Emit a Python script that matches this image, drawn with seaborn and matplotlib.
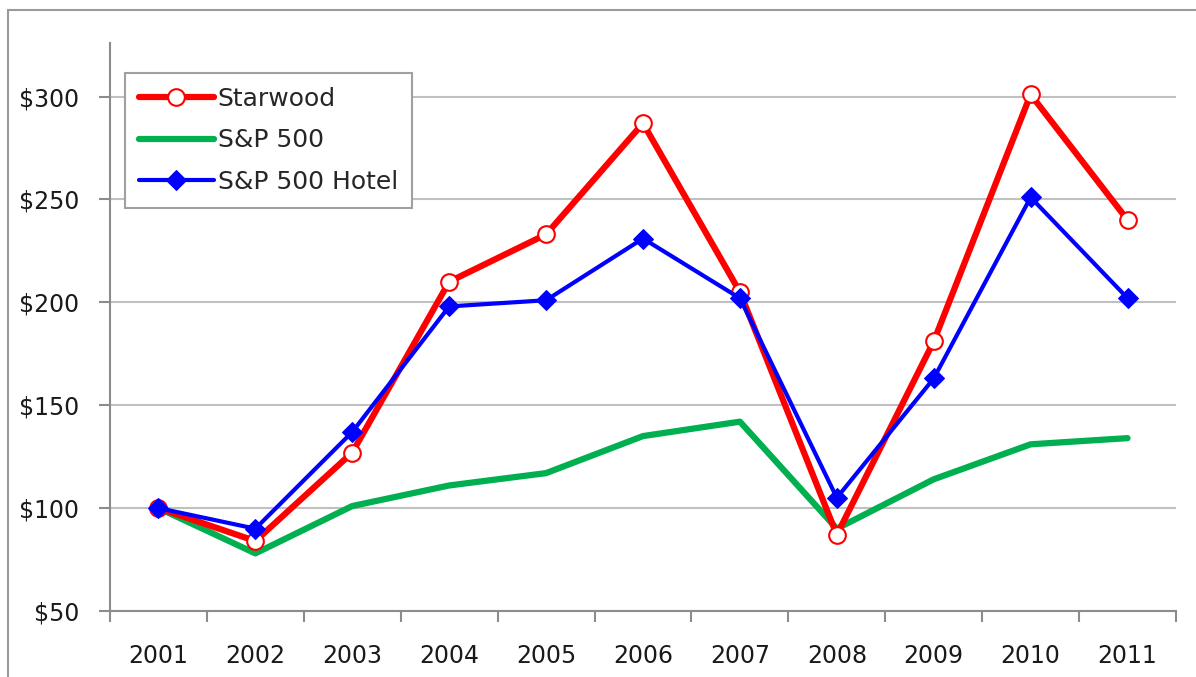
import matplotlib
matplotlib.use("Agg")
import matplotlib.pyplot as plt
import seaborn as sns
import pandas as pd
import numpy as np
from matplotlib.patches import Rectangle
from matplotlib.ticker import FixedLocator, FuncFormatter

years = ["2001", "2002", "2003", "2004", "2005", "2006", "2007", "2008", "2009", "2010", "2011"]
starwood = [100, 84, 127, 210, 233, 287, 205, 87, 181, 301, 240]
sp500 = [100, 78, 101, 111, 117, 135, 142, 90, 114, 131, 134]
sp_hotel = [100, 90, 137, 198, 201, 231, 202, 105, 163, 251, 202]
y_ticks = [50, 100, 150, 200, 250, 300]

sns.set_theme(style="white")
plt.rcParams['font.family'] = ['DejaVu Sans']

fig = plt.figure(figsize=(11.96, 6.77), dpi=100)
ax = fig.add_axes([110/1196, (677-611)/677, (1176-110)/1196, (611-43)/677])

# outer frame
fig.patches.append(Rectangle((8/1196, -0.1), 1.2, (677-10)/677 + 0.1, transform=fig.transFigure,
                             fill=False, edgecolor="#9a9a9a", linewidth=1.5, zorder=0))

x = np.arange(len(years))
df = pd.DataFrame({"x": x, "Starwood": starwood, "S&P 500": sp500, "S&P 500 Hotel": sp_hotel})

sns.lineplot(data=df, x="x", y="Starwood", ax=ax, color="#ff0000", linewidth=4.5,
             marker="o", markersize=12, markerfacecolor="white", markeredgecolor="#ff0000",
             markeredgewidth=1.5, label="Starwood", zorder=3)
sns.lineplot(data=df, x="x", y="S&P 500", ax=ax, color="#00b050", linewidth=4.5,
             label="S&P 500", zorder=2)
sns.lineplot(data=df, x="x", y="S&P 500 Hotel", ax=ax, color="#0000ff", linewidth=3,
             marker="D", markersize=10, markerfacecolor="#0000ff", markeredgecolor="#0000ff",
             label="S&P 500 Hotel", zorder=4)

ax.set_xlim(-0.5, len(years) - 0.5)
ax.set_ylim(50, 326)
ax.set_xlabel("")
ax.set_ylabel("")

fs = 17
ax.set_xticks(x)
ax.set_xticklabels(years, fontsize=fs, color="#1a1a1a")
ax.xaxis.set_minor_locator(FixedLocator(np.arange(-0.5, len(years), 1.0)))
ax.tick_params(axis="x", which="major", length=0, pad=24)
ax.tick_params(axis="x", which="minor", length=8, width=1.5, color="#8c8c8c", direction="out", bottom=True)

ax.set_yticks(y_ticks)
ax.yaxis.set_major_formatter(FuncFormatter(lambda v, p: f"${int(v)}"))
ax.tick_params(axis="y", which="major", length=8, width=1.5, color="#8c8c8c", direction="out",
               labelsize=fs, labelcolor="#1a1a1a", pad=14, left=True)

ax.yaxis.grid(True, color="#c0c0c0", linewidth=1.5)
ax.xaxis.grid(False)
ax.set_axisbelow(True)

for s in ["top", "right"]:
    ax.spines[s].set_visible(False)
for s in ["left", "bottom"]:
    ax.spines[s].set_color("#8c8c8c")
    ax.spines[s].set_linewidth(1.5)

leg = ax.legend(loc="upper left", bbox_to_anchor=(15/1066, 1 - 30/568), fontsize=18,
                frameon=True, fancybox=False, framealpha=1, edgecolor="#a0a0a0",
                borderaxespad=0, handlelength=3.0, handletextpad=0.15, borderpad=0.55,
                labelspacing=0.7)
leg.get_frame().set_linewidth(1.5)

fig.savefig("out.png", dpi=100)
